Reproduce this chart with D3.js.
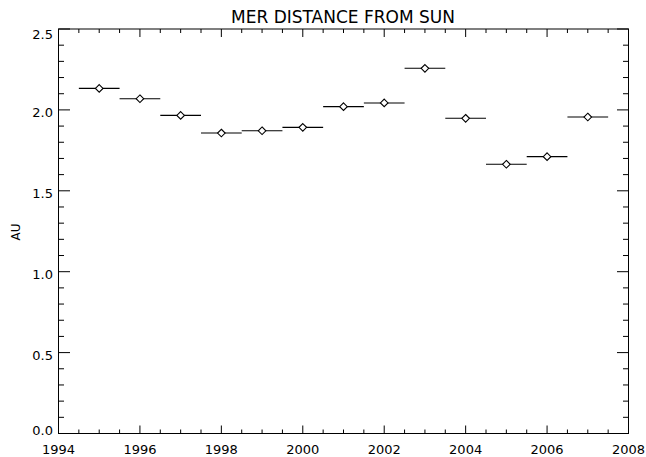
<!DOCTYPE html>
<html><head><meta charset="utf-8">
<script src="https://cdn.jsdelivr.net/npm/d3@7"></script>
<style>body{margin:0;background:#fff}svg{display:block}text{font-family:"DejaVu Sans",sans-serif;fill:#000}</style>
</head><body>
<script>
const years = [1995,1996,1997,1998,1999,2000,2001,2002,2003,2004,2005,2006,2007];
const distanceAU = [2.133,2.069,1.966,1.857,1.871,1.892,2.020,2.043,2.257,1.948,1.664,1.711,1.956];
const xTicks = [1994,1996,1998,2000,2002,2004,2006,2008];
const yTicks = [0.0,0.5,1.0,1.5,2.0,2.5];
const title = "MER DISTANCE FROM SUN";
const yLabel = "AU";

const W=646,H=457;
const L=58.5,R=628.5,T=29,B=433.5;
const svg=d3.select("body").append("svg").attr("width",W).attr("height",H);
const x=d3.scaleLinear().domain([1994,2008]).range([L,R]);
const y=d3.scaleLinear().domain([0,2.5]).range([B,T]);

const g=svg.append("g").attr("stroke","#000").attr("stroke-width",1).attr("fill","none");
g.append("rect").attr("x",L).attr("y",T).attr("width",R-L).attr("height",B-T);
const xMajLen=8,xMinLen=4,yMajLen=11.5,yMinLen=5.5;
const xMinor=d3.range(1994,2008.01,0.5);
xMinor.forEach(v=>{
  const maj=xTicks.includes(v); const len=maj?xMajLen:xMinLen;
  g.append("line").attr("x1",x(v)).attr("x2",x(v)).attr("y1",B).attr("y2",B-len);
  g.append("line").attr("x1",x(v)).attr("x2",x(v)).attr("y1",T).attr("y2",T+len);
});
const yMinor=d3.range(0,2.501,0.1);
yMinor.forEach(v=>{
  const maj=yTicks.some(t=>Math.abs(t-v)<1e-6); const len=maj?yMajLen:yMinLen;
  g.append("line").attr("x1",L).attr("x2",L+len).attr("y1",y(v)).attr("y2",y(v));
  g.append("line").attr("x1",R).attr("x2",R-len).attr("y1",y(v)).attr("y2",y(v));
});

svg.selectAll(".xl").data(xTicks).enter().append("text")
  .attr("x",d=>x(d)).attr("y",453.5).attr("text-anchor","middle").attr("font-size",13)
  .text(d=>d);
svg.selectAll(".yl").data(yTicks).enter().append("text")
  .attr("x",53).attr("y",d=>d===0?434.5:(d===2.5?y(d)+9.5:y(d)+7.5)).attr("text-anchor","end").attr("font-size",13)
  .text(d=>d.toFixed(1));
svg.append("text").attr("x",343).attr("y",22.5).attr("text-anchor","middle").attr("font-size",17).text(title);
svg.append("text").attr("transform",`translate(19.5,232) rotate(-90)`).attr("text-anchor","middle").attr("font-size",12).text(yLabel);

const pts=svg.append("g").attr("stroke","#000").attr("stroke-width",1.1);
years.forEach((yr,i)=>{
  const cx=x(yr),cy=y(distanceAU[i]);
  pts.append("line").attr("x1",x(yr-0.5)).attr("x2",x(yr+0.5)).attr("y1",cy).attr("y2",cy);
  const s=3.8;
  pts.append("path").attr("d",`M${cx},${cy-s}L${cx+s},${cy}L${cx},${cy+s}L${cx-s},${cy}Z`).attr("fill","#fff");
});
</script>
</body></html>
